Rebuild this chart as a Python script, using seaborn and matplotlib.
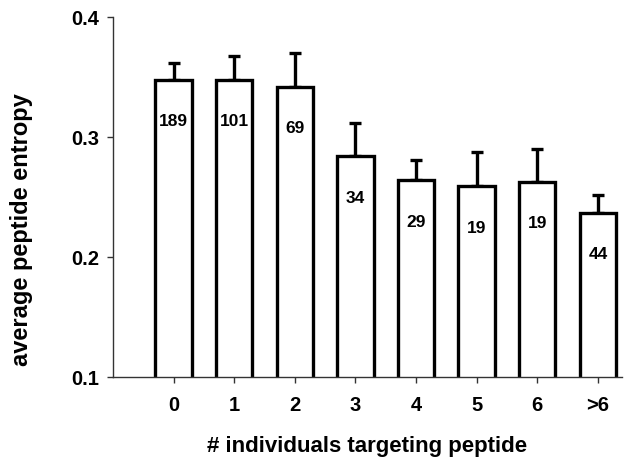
import matplotlib
matplotlib.use("Agg")
import matplotlib.pyplot as plt
import numpy as np
import pandas as pd
import seaborn as sns

# Mean entropy per group, upper error and peptide counts
categories = ["0", "1", "2", "3", "4", "5", "6", ">6"]
mean_entropy = [0.348, 0.348, 0.342, 0.284, 0.264, 0.259, 0.263, 0.237]
error_top = [0.362, 0.368, 0.370, 0.312, 0.281, 0.288, 0.290, 0.252]
counts = [189, 101, 69, 34, 29, 19, 19, 44]
y_ticks = [0.1, 0.2, 0.3, 0.4]

sns.set_theme(style="white")
plt.rcParams["font.family"] = ["Liberation Sans", "DejaVu Sans"]
plt.rcParams["font.weight"] = "bold"
for key in ("text.color", "axes.labelcolor", "xtick.color", "ytick.color"):
    plt.rcParams[key] = "black"

df = pd.DataFrame({"group": categories, "entropy": mean_entropy})

fig = plt.figure(figsize=(6.24, 4.57), dpi=100)
ax = fig.add_axes([0.181, 0.175, 0.816, 0.787])

sns.barplot(data=df, x="group", y="entropy", order=categories,
            color="white", edgecolor="black", linewidth=2.4,
            width=0.6, errorbar=None, ax=ax, zorder=2)

xs = np.arange(len(categories))
means = np.array(mean_entropy)
upper = np.array(error_top) - means
ax.errorbar(xs, means, yerr=[np.zeros_like(upper), upper], fmt="none",
            ecolor="black", elinewidth=2.4, capsize=4.5, capthick=2.4, zorder=1)

for x, m, n in zip(xs, mean_entropy, counts):
    ax.annotate(str(n), xy=(x, m), xytext=(0, -30), textcoords="offset points",
                ha="center", va="center", fontsize=12.5, fontweight="bold",
                color="black")

ax.set_xlim(-1.0, 7.4)
ax.set_ylim(0.1, 0.4)
ax.set_yticks(y_ticks)
ax.set_yticklabels([f"{t:.1f}" for t in y_ticks])

ax.set_xlabel("# individuals targeting peptide", fontsize=16, fontweight="bold")
ax.set_ylabel("average peptide entropy", fontsize=17, fontweight="bold")
ax.xaxis.set_label_coords(0.499, -0.165)
ax.yaxis.set_label_coords(-0.157, 0.409)

for lbl in ax.get_xticklabels() + ax.get_yticklabels():
    lbl.set_fontsize(14.5)
    lbl.set_fontweight("bold")

sns.despine(ax=ax, top=True, right=True)
for side in ("left", "bottom"):
    ax.spines[side].set_linewidth(1.0)
    ax.spines[side].set_color("#333333")
ax.tick_params(axis="both", which="major", direction="out", length=4,
               width=1.0, color="#333333", bottom=True, left=True)
ax.tick_params(axis="x", pad=10)
ax.tick_params(axis="y", pad=6)

fig.savefig("out.png", dpi=100)
